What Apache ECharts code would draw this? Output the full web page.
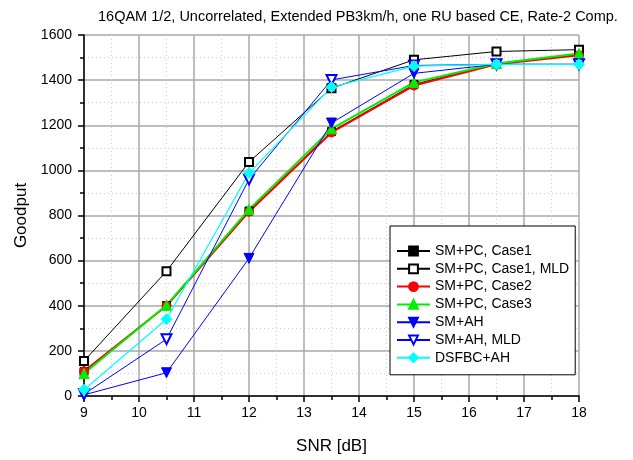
<!DOCTYPE html>
<html>
<head>
<meta charset="utf-8">
<script src="https://cdn.jsdelivr.net/npm/echarts@6/dist/echarts.min.js"></script>
<style>html,body{margin:0;padding:0;background:#fff;}#chart{width:633px;height:460px;}</style>
</head>
<body>
<div id="chart"></div>
<script>
const snr = [9, 10.5, 12, 13.5, 15, 16.5, 18];
const smpcCase1 = [108, 401, 820, 1172, 1381, 1472, 1512];
const smpcCase1MLD = [155, 553, 1037, 1364, 1490, 1527, 1535];
const smpcCase2 = [110, 400, 817, 1168, 1376, 1470, 1510];
const smpcCase3 = [100, 402, 827, 1184, 1390, 1474, 1518];
const smAH = [5, 103, 610, 1210, 1430, 1470, 1470];
const smAHMLD = [8, 252, 960, 1401, 1465, 1470, 1470];
const dsfbcAH = [28, 340, 988, 1369, 1462, 1470, 1470];
const names = ['SM+PC, Case1', 'SM+PC, Case1, MLD', 'SM+PC, Case2', 'SM+PC, Case3', 'SM+AH', 'SM+AH, MLD', 'DSFBC+AH'];
const titleText = '16QAM 1/2, Uncorrelated, Extended PB3km/h, one RU based CE, Rate-2 Comp.';

const FONT = 'Liberation Sans, Arial, sans-serif';
function pts(arr){ return snr.map((x,i)=>[x, arr[i]]); }
function mk(name, arr, color, symbol, size, width, rotate){
  return {
    name, type:'line', data: pts(arr), symbol, symbolSize: size, symbolRotate: rotate||0,
    lineStyle:{color, width}, itemStyle:{color, borderColor:color, borderWidth:1},
    emphasis:{disabled:true}, animation:false, z:2
  };
}
const chart = echarts.init(document.getElementById('chart'), null, {renderer:'canvas'});
chart.setOption({
  backgroundColor:'#fff',
  animation:false,
  title:{text:titleText, left:93, top:4, textStyle:{fontFamily:FONT, fontSize:14.5, fontWeight:'normal', color:'#000'}},
  grid:{left:84, right:54, top:35, bottom:62},
  xAxis:{
    type:'value', min:9, max:18, interval:1,
    name:'SNR [dB]', nameLocation:'middle', nameGap:42,
    nameTextStyle:{fontFamily:FONT, fontSize:17, color:'#000'},
    axisLine:{lineStyle:{color:'#000', width:1.5}},
    axisTick:{show:true, length:6, lineStyle:{color:'#000', width:1.5}},
    minorTick:{show:true, splitNumber:2, length:4, lineStyle:{color:'#000', width:1.5}},
    axisLabel:{fontFamily:FONT, fontSize:14, color:'#000', margin:10},
    splitLine:{show:true, lineStyle:{color:'#a8a8a8', width:1.5}},
    minorSplitLine:{show:true, lineStyle:{color:'#cfcfcf', width:1, type:[1,3]}}
  },
  yAxis:{
    type:'value', min:0, max:1600, interval:200,
    name:'Goodput', nameLocation:'middle', nameGap:49, nameRotate:90,
    nameTextStyle:{fontFamily:FONT, fontSize:17, color:'#000'},
    axisLine:{show:true, lineStyle:{color:'#000', width:1.5}},
    axisTick:{show:true, length:6, lineStyle:{color:'#000', width:1.5}},
    minorTick:{show:true, splitNumber:2, length:4, lineStyle:{color:'#000', width:1.5}},
    axisLabel:{fontFamily:FONT, fontSize:14, color:'#000', margin:12, formatter:(v)=>String(v)},
    splitLine:{show:true, lineStyle:{color:'#a8a8a8', width:1.5}},
    minorSplitLine:{show:true, lineStyle:{color:'#cfcfcf', width:1, type:[1,3]}}
  },
  legend:{
    data:names, orient:'vertical', left:390, top:226,
    backgroundColor:'#fff', borderColor:'#000', borderWidth:1,
    padding:[18,6,10,6], itemGap:3.8, itemWidth:33, itemHeight:11,
    textStyle:{fontFamily:FONT, fontSize:14, color:'#000', lineHeight:14},
    selectedMode:false
  },
  series:[
    mk(names[0], smpcCase1, '#000000', 'rect', 8, 1),
    mk(names[1], smpcCase1MLD, '#000000', 'emptyRect', 8, 1),
    mk(names[2], smpcCase2, '#ff0000', 'circle', 9, 2),
    mk(names[3], smpcCase3, '#00ee00', 'triangle', 10, 2),
    mk(names[4], smAH, '#0000ff', 'triangle', 10, 1, 180),
    mk(names[5], smAHMLD, '#0000ff', 'emptyTriangle', 10, 1, 180),
    mk(names[6], dsfbcAH, '#00ffff', 'diamond', 11, 1.2)
  ]
});
</script>
</body>
</html>
